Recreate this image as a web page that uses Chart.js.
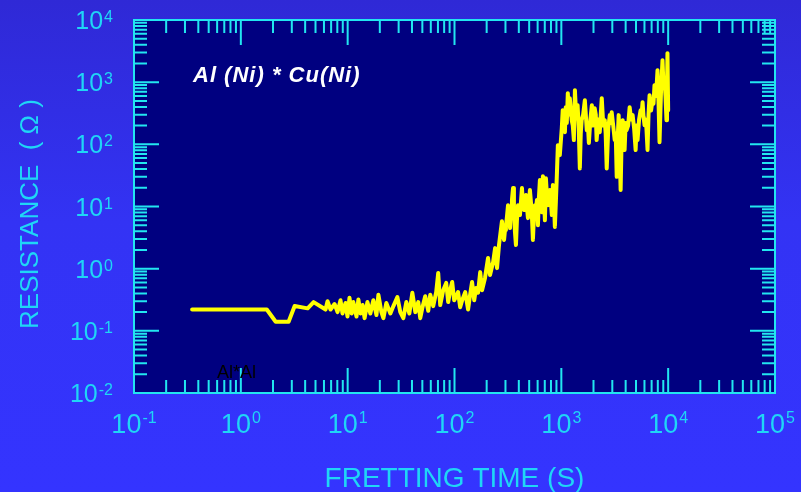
<!DOCTYPE html>
<html>
<head>
<meta charset="utf-8">
<script src="https://cdn.jsdelivr.net/npm/chart.js@4"></script>
<style>
  html, body { margin: 0; padding: 0; }
  body { width: 801px; height: 492px; background: linear-gradient(to bottom, #2f29d6 0%, #3333f4 45%, #3434ff 100%); overflow: hidden; }
  canvas { display: block; }
</style>
</head>
<body>
<canvas id="chart" width="801" height="492"></canvas>
<script>
// fretting time (s) and contact resistance (ohm)
const fretTime = [
  0.35, 1.75, 2.12, 2.8, 3.19, 4.22, 4.8, 6.21, 6.48, 6.91,
  7.54, 8.04, 8.57, 8.95, 9.54, 9.96, 10.4, 10.9, 11.3, 12.1,
  12.6, 13.2, 13.8, 14.4, 15.3, 16.3, 17.4, 18.6, 19.4, 20.7,
  21.6, 23.0, 25.1, 26.8, 29.2, 31.1, 33.2, 35.4, 37.8, 40.3,
  43.0, 45.8, 47.8, 49.9, 53.2, 56.8, 59.3, 63.2, 67.4, 70.4,
  73.5, 78.4, 83.6, 87.3, 91.1, 95.1, 99.3, 104, 108, 113,
  118, 126, 134, 140, 146, 153, 159, 166, 174, 181,
  193, 206, 215, 230, 240, 250, 261, 278, 284, 291,
  297, 303, 310, 317, 324, 331, 338, 345, 353, 360,
  368, 376, 384, 393, 401, 410, 419, 428, 437, 447,
  456, 466, 476, 487, 497, 508, 519, 530, 542, 554,
  566, 578, 591, 597, 604, 617, 630, 644, 658, 665,
  672, 687, 702, 709, 717, 732, 748, 764, 781, 798,
  815, 824, 833, 851, 870, 889, 908, 928, 968, 1010,
  1030, 1050, 1080, 1100, 1125, 1150, 1175, 1200, 1225, 1250,
  1280, 1310, 1340, 1380, 1420, 1455, 1490, 1520, 1550, 1600,
  1660, 1700, 1730, 1770, 1810, 1870, 1930, 1990, 2050, 2100,
  2140, 2210, 2290, 2340, 2390, 2470, 2550, 2600, 2660, 2750,
  2840, 2900, 2960, 3060, 3160, 3230, 3300, 3370, 3440, 3510,
  3590, 3670, 3750, 3830, 3910, 4000, 4080, 4220, 4360, 4500,
  4650, 4800, 4960, 5060, 5170, 5340, 5520, 5640, 5760, 5880,
  6010, 6200, 6410, 6550, 6700, 6920, 7140, 7290, 7450, 7700,
  7950, 8120, 8300, 8570, 8850, 9040, 9240, 9440, 9640, 9750,
  9850, 10000
];
const resistance = [
  0.22, 0.22, 0.14, 0.14, 0.25, 0.23, 0.29, 0.22, 0.30, 0.22,
  0.27, 0.20, 0.31, 0.19, 0.28, 0.17, 0.34, 0.19, 0.29, 0.17,
  0.32, 0.19, 0.26, 0.16, 0.29, 0.19, 0.31, 0.18, 0.38, 0.20,
  0.16, 0.28, 0.19, 0.25, 0.35, 0.20, 0.16, 0.29, 0.19, 0.41,
  0.20, 0.29, 0.16, 0.23, 0.36, 0.21, 0.38, 0.25, 0.42, 0.85,
  0.26, 0.45, 0.59, 0.29, 0.45, 0.61, 0.31, 0.36, 0.42, 0.24,
  0.31, 0.42, 0.22, 0.38, 0.61, 0.31, 0.49, 0.41, 0.88, 0.45,
  0.71, 1.48, 0.79, 1.28, 2.14, 1.02, 2.4, 5.8, 4.0, 2.9,
  4.2, 4.8, 7.0, 10.5, 8.0, 4.5, 9.0, 12.7, 19.8, 10,
  3.9, 2.4, 6.0, 10.5, 9.0, 7.3, 12, 19.8, 11, 8.8,
  12, 15.3, 10, 6.5, 11, 18.4, 12, 7.3, 2.9, 7.0,
  10.5, 9.0, 12.7, 8.0, 5.0, 14, 26.6, 13, 8.1, 15,
  30.8, 14, 6.0, 12, 28.6, 16, 10.5, 13, 18.4, 12,
  7.3, 12, 22.1, 14, 4.7, 12, 32, 97, 67, 182,
  354, 250, 157, 396, 220, 666, 300, 553, 380, 245,
  200, 117, 744, 260, 427, 180, 41, 150, 245, 300,
  513, 280, 169, 220, 105, 250, 427, 200, 382, 300,
  117, 250, 157, 300, 553, 200, 245, 150, 41, 180,
  295, 220, 329, 200, 117, 150, 30, 120, 295, 100,
  18.4, 130, 245, 150, 81, 220, 169, 200, 396, 250,
  295, 180, 81, 200, 117, 250, 354, 300, 477, 280,
  203, 250, 81, 300, 618, 350, 513, 450, 895, 600,
  1560, 500, 108, 700, 2260, 900, 1080, 600, 245, 800,
  2930, 354
];

// decade exponents used for tick labels
const xDecades = [-1, 0, 1, 2, 3, 4, 5];
const yDecades = [-2, -1, 0, 1, 2, 3, 4];

const chartTitle = 'Al (Ni) * Cu(Ni)';
const noteText = 'Al*Al';
const xTitle = 'FRETTING TIME (S)';
const yTitle = 'RESISTANCE  ( \u03A9 )';

const FONT = '"Liberation Sans", Arial, sans-serif';
const AXIS = '#22e6f0';
const TEXT = '#1fd6f6';

// draws the plot box, inward ticks on all sides and the 10^n labels
const frame = {
  id: 'frame',
  beforeDraw(chart) {
    const a = chart.chartArea;
    const ctx = chart.ctx;
    ctx.save();
    ctx.fillStyle = '#000080';
    ctx.fillRect(a.left, a.top, a.right - a.left, a.bottom - a.top);
    ctx.restore();
  },
  afterDatasetsDraw(chart) {
    const a = chart.chartArea;
    const ctx = chart.ctx;
    const xs = chart.scales.x;
    const ys = chart.scales.y;
    ctx.save();
    ctx.strokeStyle = AXIS;
    ctx.lineWidth = 2;
    ctx.strokeRect(a.left, a.top, a.right - a.left, a.bottom - a.top);

    ctx.beginPath();
    xDecades.forEach((d) => {
      for (let m = 1; m <= 9; m++) {
        const v = m * Math.pow(10, d);
        if (v > xs.max * 1.0001) break;
        const px = xs.getPixelForValue(v);
        const len = m === 1 ? 25 : 13;
        ctx.moveTo(px, a.bottom);
        ctx.lineTo(px, a.bottom - len);
        ctx.moveTo(px, a.top);
        ctx.lineTo(px, a.top + len);
      }
    });
    yDecades.forEach((d) => {
      for (let m = 1; m <= 9; m++) {
        const v = m * Math.pow(10, d);
        if (v > ys.max * 1.0001) break;
        const py = ys.getPixelForValue(v);
        const len = m === 1 ? 25 : 13;
        ctx.moveTo(a.left, py);
        ctx.lineTo(a.left + len, py);
        ctx.moveTo(a.right, py);
        ctx.lineTo(a.right - len, py);
      }
    });
    ctx.stroke();

    // tick labels
    ctx.fillStyle = TEXT;
    ctx.textBaseline = 'alphabetic';
    ctx.textAlign = 'left';
    xDecades.forEach((d) => {
      const px = xs.getPixelForValue(Math.pow(10, d));
      ctx.font = '27px ' + FONT;
      const w1 = ctx.measureText('10').width;
      ctx.font = '16px ' + FONT;
      const w2 = ctx.measureText(String(d)).width;
      const x0 = px - (w1 + w2 + 1) / 2;
      ctx.font = '27px ' + FONT;
      ctx.fillText('10', x0, 433);
      ctx.font = '16px ' + FONT;
      ctx.fillText(String(d), x0 + w1 + 1, 423);
    });
    yDecades.forEach((d) => {
      const py = ys.getPixelForValue(Math.pow(10, d));
      ctx.font = '16px ' + FONT;
      const w2 = ctx.measureText(String(d)).width;
      const right = 113;
      ctx.fillText(String(d), right - w2, py + 2);
      ctx.font = '25px ' + FONT;
      const w1 = ctx.measureText('10').width;
      ctx.fillText('10', right - w2 - 1 - w1, py + 9);
    });

    // axis titles
    ctx.font = '28px ' + FONT;
    ctx.textAlign = 'center';
    ctx.fillText(xTitle, (a.left + a.right) / 2, 487);
    ctx.save();
    ctx.translate(31, 214);
    ctx.rotate(-Math.PI / 2);
    ctx.font = '26px ' + FONT;
    ctx.textBaseline = 'middle';
    ctx.fillText(yTitle, 0, 0);
    ctx.restore();

    // in-plot labels
    ctx.textAlign = 'left';
    ctx.fillStyle = '#ffffff';
    ctx.font = 'italic bold 22px ' + FONT;
    ctx.letterSpacing = '1px';
    ctx.fillText(chartTitle, 193, 82);
    ctx.letterSpacing = '0px';
    ctx.fillStyle = '#000000';
    ctx.font = '18px ' + FONT;
    ctx.fillText(noteText, 217, 378);
    ctx.restore();
  }
};

const ctx = document.getElementById('chart').getContext('2d');
new Chart(ctx, {
  type: 'scatter',
  data: {
    datasets: [{
      data: fretTime.map((t, i) => ({ x: t, y: resistance[i] })),
      showLine: true,
      borderColor: '#ffff00',
      borderWidth: 4,
      borderJoinStyle: 'round',
      borderCapStyle: 'round',
      pointRadius: 0,
      tension: 0
    }]
  },
  options: {
    responsive: false,
    animation: false,
    devicePixelRatio: 1,
    layout: { padding: { left: 134, right: 26, top: 20, bottom: 99 } },
    plugins: { legend: { display: false }, tooltip: { enabled: false } },
    scales: {
      x: { type: 'logarithmic', min: 0.1, max: 100000, display: false },
      y: { type: 'logarithmic', min: 0.01, max: 10000, display: false }
    }
  },
  plugins: [frame]
});
</script>
</body>
</html>
